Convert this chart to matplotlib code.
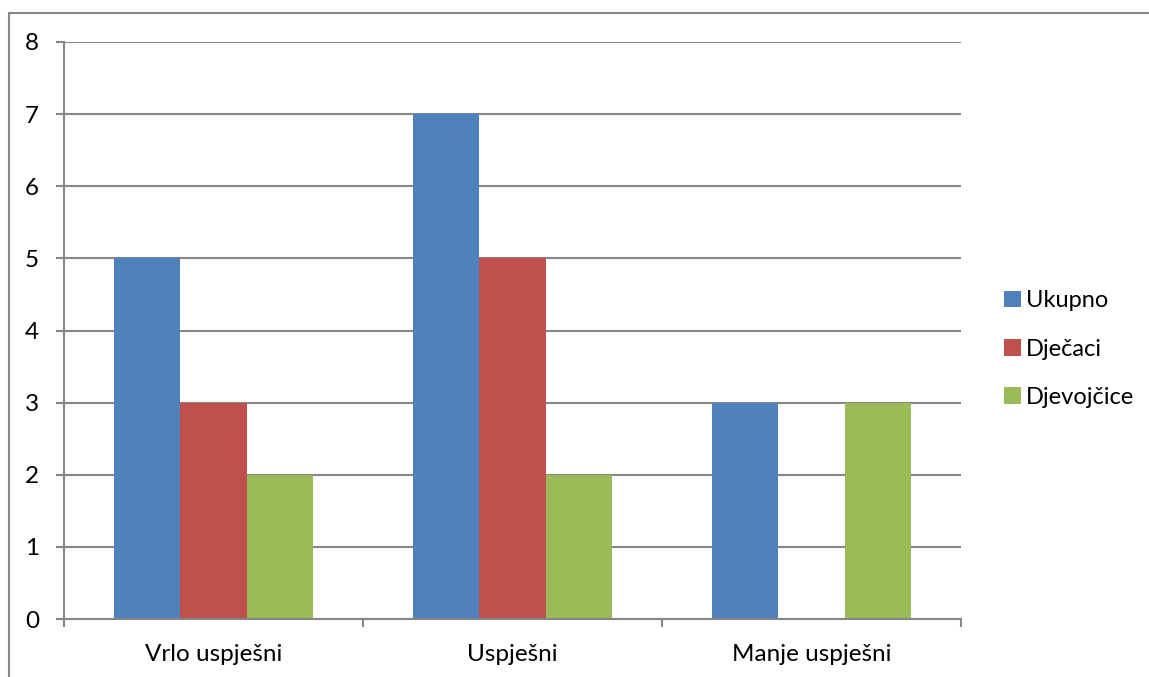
import matplotlib
matplotlib.use("Agg")
import matplotlib.pyplot as plt
from matplotlib.patches import Rectangle
import numpy as np

categories = ["Vrlo uspješni", "Uspješni", "Manje uspješni"]
series_names = ["Ukupno", "Dječaci", "Djevojčice"]
ukupno = [5, 7, 3]
djecaci = [3, 5, 0]
djevojcice = [2, 2, 3]
colors = ["#4F81BD", "#C0504D", "#9BBB59"]
yticks = [0, 1, 2, 3, 4, 5, 6, 7, 8]

plt.rcParams['font.family'] = ['Lato', 'DejaVu Sans']

W, H = 1149, 677
fig = plt.figure(figsize=(W/100, H/100), dpi=100)
fig.patch.set_facecolor("white")

# outer chart border
fig.patches.append(Rectangle((9/W, -0.1), 1.2, 1 - 13/H + 0.1, transform=fig.transFigure,
                             fill=False, edgecolor="#868686", linewidth=1.5))

ax = fig.add_axes([64/W, 1 - 619/H, (961-64)/W, (619-42)/H])
x = np.arange(len(categories))
bw = 1/4.5
for i, (vals, name) in enumerate(zip([ukupno, djecaci, djevojcice], series_names)):
    ax.bar(x + (i-1)*bw, vals, width=bw, color=colors[i], label=name, zorder=3)

ax.set_xlim(-0.5, 2.5)
ax.set_ylim(0, 8)
ax.set_yticks(yticks)
ax.set_xticks(x)
ax.set_xticklabels(categories)
ax.set_xticks(np.arange(-0.5, 3.0, 1.0), minor=True)
ax.tick_params(axis='x', which='major', length=0, pad=18, labelsize=17.5)
ax.tick_params(axis='x', which='minor', length=6, color="#868686", width=1.5)
ax.tick_params(axis='y', length=6, color="#868686", width=1.5, pad=12, labelsize=17.5)
ax.yaxis.grid(True, color="#868686", linewidth=1.5, zorder=0)
ax.set_axisbelow(True)
for s in ['top', 'right']:
    ax.spines[s].set_visible(False)
for s in ['left', 'bottom']:
    ax.spines[s].set_color("#868686")
    ax.spines[s].set_linewidth(1.5)
ax.spines['bottom'].set_zorder(4)

leg = fig.legend(loc='center left', bbox_to_anchor=(983/W, 1 - 349/H), frameon=False,
                 fontsize=17, handlelength=0.7, handleheight=0.7, handletextpad=0.2,
                 labelspacing=1.15)

fig.savefig("out.png", dpi=100)
